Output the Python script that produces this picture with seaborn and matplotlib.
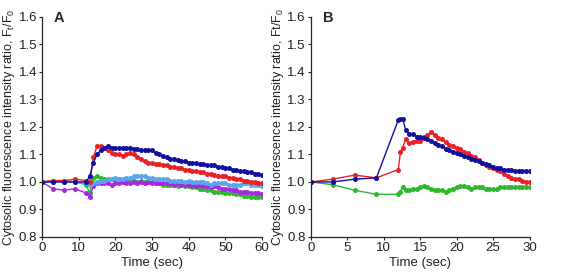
import pandas as pd
import matplotlib
matplotlib.use('Agg')
import matplotlib.pyplot as plt
import seaborn as sns

# panel A: time points (sec)
time_a = [0, 3, 6, 9, 12] + list(range(13, 61))

blue_a = [1.0, 1.0, 1.0, 1.0, 1.0,
          1.02, 1.07, 1.10, 1.115, 1.125, 1.13, 1.125, 1.125, 1.125, 1.125, 1.125, 1.125,
          1.12, 1.12, 1.115, 1.115, 1.115, 1.115, 1.105, 1.10, 1.095, 1.09, 1.085, 1.085,
          1.08, 1.075, 1.075, 1.07, 1.07, 1.07, 1.065, 1.065, 1.06, 1.06, 1.06, 1.055,
          1.055, 1.05, 1.05, 1.045, 1.045, 1.04, 1.04, 1.035, 1.035, 1.03, 1.03, 1.025]
red_a = [1.0, 1.005, 1.005, 1.01, 1.005,
         1.0, 1.09, 1.13, 1.13, 1.125, 1.115, 1.105, 1.10, 1.10, 1.095, 1.10, 1.105,
         1.10, 1.09, 1.085, 1.075, 1.07, 1.07, 1.065, 1.065, 1.06, 1.06, 1.055, 1.055,
         1.05, 1.05, 1.045, 1.045, 1.04, 1.04, 1.035, 1.035, 1.03, 1.03, 1.025, 1.02,
         1.02, 1.02, 1.015, 1.015, 1.01, 1.01, 1.005, 1.005, 1.0, 1.0, 0.998, 0.995]
green_a = [1.0, 1.005, 1.005, 1.0, 0.99,
           0.96, 1.015, 1.02, 1.015, 1.01, 1.01, 1.01, 1.01, 1.01, 1.005, 1.01, 1.005,
           1.005, 1.0, 1.005, 1.0, 1.0, 1.0, 0.995, 0.995, 0.99, 0.99, 0.99, 0.99,
           0.985, 0.99, 0.985, 0.985, 0.98, 0.98, 0.975, 0.975, 0.97, 0.97, 0.965, 0.965,
           0.965, 0.96, 0.96, 0.96, 0.955, 0.955, 0.95, 0.95, 0.945, 0.945, 0.945, 0.945]
purple_a = [1.0, 0.975, 0.97, 0.975, 0.96,
            0.945, 0.985, 0.995, 0.995, 0.995, 0.995, 0.99, 0.995, 0.995, 1.0, 0.995, 0.995,
            1.0, 0.995, 1.0, 0.995, 1.0, 0.995, 0.995, 0.995, 0.995, 0.995, 0.995, 0.99,
            0.995, 0.99, 0.99, 0.99, 0.99, 0.985, 0.99, 0.985, 0.985, 0.98, 0.985, 0.98,
            0.975, 0.975, 0.975, 0.97, 0.97, 0.965, 0.965, 0.965, 0.96, 0.96, 0.96, 0.955]
lightblue_a = [1.0, 1.0, 1.0, 1.0, 0.995,
               0.99, 0.995, 1.0, 1.005, 1.005, 1.01, 1.01, 1.015, 1.01, 1.01, 1.015, 1.015,
               1.02, 1.02, 1.02, 1.02, 1.015, 1.015, 1.01, 1.01, 1.01, 1.01, 1.005, 1.005,
               1.005, 1.005, 1.0, 1.005, 1.0, 1.0, 1.0, 1.0, 0.995, 0.99, 0.995, 0.995,
               0.995, 0.995, 0.99, 0.99, 0.99, 0.99, 0.995, 0.995, 0.99, 0.99, 0.99, 0.985]

# panel B: time points (sec)
time_b = [0, 3, 6, 9, 12, 12.3, 12.6, 13, 13.5, 14, 14.5, 15, 15.5, 16, 16.5, 17, 17.5,
          18, 18.5, 19, 19.5, 20, 20.5, 21, 21.5, 22, 22.5, 23, 23.5, 24, 24.5, 25, 25.5,
          26, 26.5, 27, 27.5, 28, 28.5, 29, 29.5, 30]

blue_b = [1.0, 1.0, 1.01, 1.015, 1.225, 1.23, 1.23, 1.19, 1.175, 1.175, 1.165, 1.165, 1.16,
          1.155, 1.15, 1.14, 1.135, 1.13, 1.12, 1.115, 1.11, 1.105, 1.10, 1.095, 1.09,
          1.085, 1.08, 1.075, 1.07, 1.065, 1.06, 1.055, 1.05, 1.05, 1.045, 1.045, 1.045,
          1.04, 1.04, 1.04, 1.04, 1.04]
red_b = [1.0, 1.01, 1.025, 1.015, 1.045, 1.11, 1.125, 1.155, 1.14, 1.145, 1.15, 1.15, 1.165,
         1.17, 1.18, 1.17, 1.16, 1.155, 1.145, 1.135, 1.13, 1.125, 1.12, 1.11, 1.105,
         1.095, 1.09, 1.08, 1.07, 1.06, 1.055, 1.05, 1.045, 1.04, 1.03, 1.02, 1.015,
         1.01, 1.01, 1.005, 1.0, 1.0]
green_b = [1.0, 0.99, 0.97, 0.955, 0.955, 0.965, 0.98, 0.97, 0.97, 0.975, 0.975, 0.98, 0.985,
           0.98, 0.975, 0.97, 0.97, 0.97, 0.965, 0.97, 0.975, 0.98, 0.985, 0.985, 0.98,
           0.975, 0.98, 0.98, 0.98, 0.975, 0.975, 0.975, 0.975, 0.98, 0.98, 0.98, 0.98,
           0.98, 0.98, 0.98, 0.98, 0.98]

colors = {'blue': '#1010a0', 'red': '#e82028', 'green': '#2db82d',
          'purple': '#a828e0', 'lightblue': '#5aa5f0'}

rows = []
for name, vals in [('green', green_a), ('purple', purple_a), ('lightblue', lightblue_a),
                   ('red', red_a), ('blue', blue_a)]:
    for t, v in zip(time_a, vals):
        rows.append({'time': t, 'ratio': v, 'series': name})
df_a = pd.DataFrame(rows)

rows = []
for name, vals in [('green', green_b), ('red', red_b), ('blue', blue_b)]:
    for t, v in zip(time_b, vals):
        rows.append({'time': t, 'ratio': v, 'series': name})
df_b = pd.DataFrame(rows)

sns.set_style('ticks')
plt.rcParams['font.family'] = ['Liberation Sans', 'DejaVu Sans']
plt.rcParams['font.size'] = 9

fig = plt.figure(figsize=(5.64, 2.73), dpi=100)
ax_a = fig.add_axes([0.0745, 0.132, 0.39, 0.806])
ax_b = fig.add_axes([0.551, 0.132, 0.388, 0.806])

for ax, df, xmax, xticks, letter, ylab in [
        (ax_a, df_a, 60, [0, 10, 20, 30, 40, 50, 60], 'A',
         'Cytosolic fluorescence intensity ratio, F$_\\mathregular{t}$/F$_\\mathregular{0}$'),
        (ax_b, df_b, 30, [0, 5, 10, 15, 20, 25, 30], 'B',
         'Cytosolic fluorescence intensity ratio, Ft/F$_\\mathregular{0}$')]:
    sns.lineplot(data=df, x='time', y='ratio', hue='series', palette=colors,
                 marker='o', markersize=3.6, markeredgewidth=0, linewidth=1.0,
                 sort=False, legend=False, ax=ax)
    ax.set_xlim(0, xmax)
    ax.set_ylim(0.8, 1.6)
    ax.set_xticks(xticks)
    ax.set_yticks([0.8, 0.9, 1.0, 1.1, 1.2, 1.3, 1.4, 1.5, 1.6])
    ax.set_yticklabels(['0.8', '0.9', '1.0', '1.1', '1.2', '1.3', '1.4', '1.5', '1.6'])
    ax.tick_params(labelsize=9.5, length=2.5, width=0.8, pad=1, colors='#222222')
    ax.set_xlabel('Time (sec)', fontsize=9.5, labelpad=2, color='#222222')
    ax.set_ylabel(ylab, fontsize=9, labelpad=1, color='#222222')
    for s in ['left', 'bottom']:
        ax.spines[s].set_linewidth(0.9)
    sns.despine(ax=ax)
    ax.text(0.055, 1.025, letter, transform=ax.transAxes, fontsize=10.5,
            fontweight='bold', va='top', ha='left')

fig.savefig('out.png', dpi=100)
